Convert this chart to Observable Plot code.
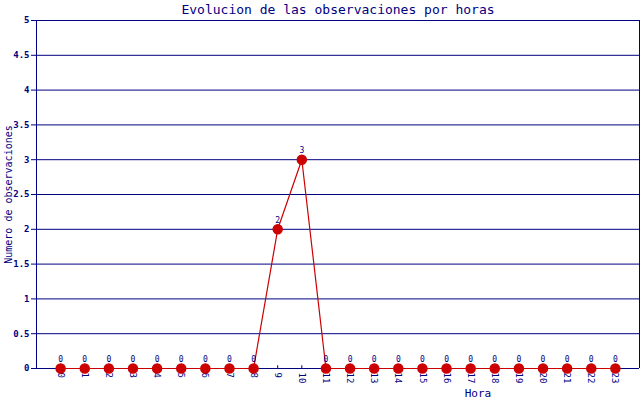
<!DOCTYPE html>
<html>
<head>
<meta charset="utf-8">
<script src="https://cdn.jsdelivr.net/npm/d3@7"></script>
<script src="https://cdn.jsdelivr.net/npm/@observablehq/plot@0.6"></script>
<style>
  html, body { margin: 0; padding: 0; background: #fff; }
  #chart svg { display: block; }
</style>
</head>
<body>
<div id="chart"></div>
<script>
const hours = [0,1,2,3,4,5,6,7,8,9,10,11,12,13,14,15,16,17,18,19,20,21,22,23];
const counts = [0,0,0,0,0,0,0,0,0,2,3,0,0,0,0,0,0,0,0,0,0,0,0,0];
const yTicks = [0,0.5,1,1.5,2,2.5,3,3.5,4,4.5,5];
const title = "Evolucion de las observaciones por horas";
const xLabel = "Hora";
const yLabel = "Numero de observaciones";

const data = hours.map((h, i) => ({hora: h, n: counts[i]}));
const navy = "#000080";
const red = "#cc0000";
const font = "DejaVu Sans Mono, Liberation Mono, monospace";

const chart = Plot.plot({
  width: 640,
  height: 400,
  marginLeft: 36,
  marginRight: 1,
  marginTop: 20,
  marginBottom: 32,
  style: {fontFamily: font, fontSize: "9px", color: navy, background: "#fff"},
  x: {domain: [-1, 24], axis: null},
  y: {domain: [0, 5], axis: null},
  marks: [
    Plot.ruleY(yTicks, {stroke: navy, strokeWidth: 1}),
    Plot.ruleX([-1, 24], {stroke: navy, strokeWidth: 1}),
    Plot.axisY(yTicks, {anchor: "left", tickSize: 5, tickPadding: 2, stroke: navy, fill: navy,
      tickFormat: d => String(d), fontWeight: "bold", fontSize: 9, label: null}),
    Plot.axisX(hours, {anchor: "bottom", tickSize: 0, tickPadding: 4, tickRotate: 90,
      fill: navy, tickFormat: d => String(d), fontSize: 9, label: null}),
    Plot.ruleX(hours, {x: d => d, y1: 0, y2: 0.04, stroke: navy}),
    Plot.line(data, {x: "hora", y: "n", stroke: red, strokeWidth: 1.2}),
    Plot.dot(data, {x: "hora", y: "n", r: 4.5, fill: red, stroke: red}),
    Plot.text(data, {x: "hora", y: "n", text: d => String(d.n), dy: -9, fill: navy, fontSize: 8}),
    Plot.text([title], {frameAnchor: "top", dy: -16, text: d => d, fill: navy, fontSize: 13}),
    Plot.text([xLabel], {x: 17.3, frameAnchor: "bottom", dy: 28, text: d => d, fill: navy, fontSize: 11}),
    Plot.text([yLabel], {y: () => 2.5, frameAnchor: "left", textAnchor: "middle", dx: -28, rotate: -90, text: d => d, fill: navy, fontSize: 10})
  ]
});
document.getElementById("chart").appendChild(chart);
</script>
</body>
</html>
